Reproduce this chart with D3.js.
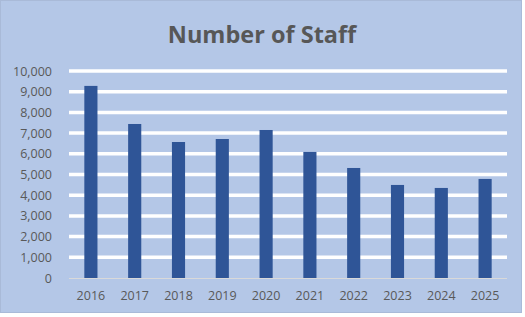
<!DOCTYPE html>
<html>
<head>
<meta charset="utf-8">
<script src="https://cdn.jsdelivr.net/npm/d3@7"></script>
<style>
  body { margin: 0; background: #fff; }
  text { font-family: "Open Sans", sans-serif; fill: #595959; }
</style>
</head>
<body>
<div id="chart"></div>
<script>
var years = ["2016", "2017", "2018", "2019", "2020", "2021", "2022", "2023", "2024", "2025"];
var staff = [9280, 7440, 6570, 6715, 7150, 6090, 5315, 4495, 4350, 4785];
var yTicks = [0, 1000, 2000, 3000, 4000, 5000, 6000, 7000, 8000, 9000, 10000];

var svgWidth = 525;
var svgHeight = 317;

var margin = { top: 71, right: 18, bottom: 39, left: 69 };
var width = 507 - margin.left;
var height = 278 - margin.top;

var svg = d3.select("#chart")
  .append("svg")
  .attr("width", svgWidth)
  .attr("height", svgHeight);

// chart background with thin border
svg.append("rect")
  .attr("x", 0.5)
  .attr("y", 0.5)
  .attr("width", 521)
  .attr("height", 312)
  .attr("fill", "#b4c7e7")
  .attr("stroke", "#a9bad8");

svg.append("text")
  .attr("x", 262)
  .attr("y", 43)
  .attr("text-anchor", "middle")
  .style("font-size", "23.5px")
  .style("font-weight", "bold")
  .style("fill", "#575757")
  .text("Number of Staff");

var chartGroup = svg.append("g")
  .attr("transform", `translate(${margin.left}, ${margin.top})`);

var xScale = d3.scaleBand()
  .domain(years)
  .range([0, width])
  .paddingInner(0.7)
  .paddingOuter(0.35);

var yScale = d3.scaleLinear()
  .domain([0, 10000])
  .range([height, 0]);

// gridlines
chartGroup.append("g")
  .selectAll("line")
  .data(yTicks.filter(d => d > 0))
  .enter()
  .append("line")
  .attr("x1", 0)
  .attr("x2", width)
  .attr("y1", d => yScale(d))
  .attr("y2", d => yScale(d))
  .attr("stroke", "#fff")
  .attr("stroke-width", 3.5);

// y axis labels
var leftAxis = d3.axisLeft(yScale)
  .tickValues(yTicks)
  .tickFormat(d3.format(","))
  .tickSize(0)
  .tickPadding(17);

chartGroup.append("g")
  .call(leftAxis)
  .call(g => g.select(".domain").remove())
  .selectAll("text")
  .style("font-size", "12.5px")
  .style("fill", "#595959");

chartGroup.selectAll("rect.bar")
  .data(staff)
  .enter()
  .append("rect")
  .attr("class", "bar")
  .attr("x", (d, i) => xScale(years[i]))
  .attr("y", d => yScale(d))
  .attr("width", xScale.bandwidth())
  .attr("height", d => height - yScale(d))
  .attr("fill", "#2f5597");

// x axis
var bottomAxis = d3.axisBottom(xScale)
  .tickSize(0)
  .tickPadding(13);

chartGroup.append("g")
  .attr("transform", `translate(0, ${height})`)
  .call(bottomAxis)
  .call(g => g.select(".domain").attr("stroke", "#d9d9d9").attr("d", `M0,0.5H${width}`))
  .selectAll("text")
  .style("font-size", "12.5px")
  .style("fill", "#595959");
</script>
</body>
</html>
